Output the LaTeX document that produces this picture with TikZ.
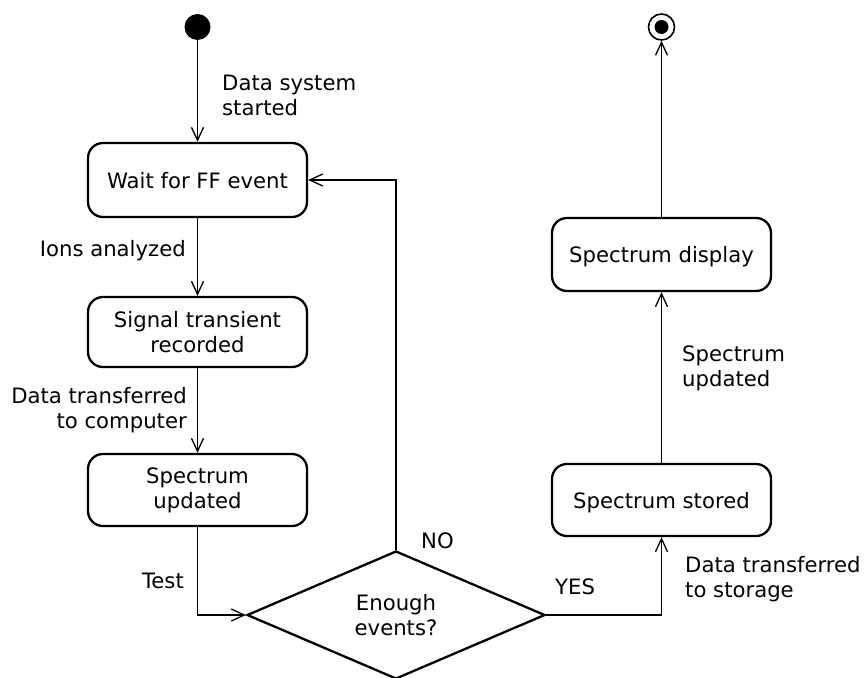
\documentclass[tikz,border=0pt]{standalone}
\usepackage{fontspec}
\setmainfont{DejaVu Sans}
\usetikzlibrary{shapes.geometric, arrows.meta}
\tikzset{
state/.style = {draw, line width=2.3pt, rounded corners=15pt,
                 minimum width=219pt, inner sep=0pt, align=center},
oneline/.style = {text depth=0pt},
decision/.style = {diamond, draw, line width=2.3pt, inner sep=0pt,
                   minimum width=298pt, minimum height=128pt, align=center},
start/.style = {circle, fill, minimum size=26pt, inner sep=0pt},
finish/.style = {circle, draw, line width=1.6pt, minimum size=26pt, inner sep=0pt,
                 path picture={\fill (path picture bounding box.center) circle (7pt);}},
trans/.style = {line width=1.3pt, -{Straight Barb[length=13pt, width=12pt, line width=1.3pt]}},
lbl/.style = {inner sep=0pt}
}

\begin{document}
\begin{tikzpicture}[x=1pt, y=-1pt, font=\fontsize{21.2}{25}\selectfont]
	\def \colL{197.5} % left column
	\def \colR{661.5} % right column
	\useasboundingbox (0,0) rectangle (864,677);

	% States
	\node[start] (init) at (\colL,27) {};
	\node[state, oneline, minimum height=74pt] (wait) at (\colL,180) {Wait for FF event};
	\node[state, minimum height=70pt] (signal) at (\colL,332) {Signal transient\\recorded};
	\node[state, minimum height=72pt] (updated) at (\colL,490) {Spectrum\\updated};
	\node[decision] (test) at (396,615) {Enough\\events?};
	\node[state, oneline, minimum height=72pt] (stored) at (\colR,500) {Spectrum stored};
	\node[state, oneline, minimum height=73pt] (display) at (\colR,254.5) {Spectrum display};
	\node[finish] (final) at (\colR,27) {};

	% Transitions
	\draw[trans] (init) -- (wait.north);
	\draw[trans] (wait.south) -- (signal.north);
	\draw[trans] (signal.south) -- (updated.north);
	\draw[trans] (updated.south) |- (test.west);
	\draw[trans] (test.north) |- (wait.east);
	\draw[trans] (test.east) -| (stored.south);
	\draw[trans] (stored.north) -- (display.south);
	\draw[trans] (display.north) -- (final);

	% Labels
	\node[lbl, anchor=west, align=left] (lstart) at (222,95.5) {Data system\\started};
	\node[lbl, anchor=east] (lions) at (186,251) {Ions analyzed};
	\node[lbl, anchor=east, align=right] (lcomp) at (187,410.5) {Data transferred\\to computer};
	\node[lbl, anchor=east] (ltest) at (184,581) {Test};
	\node[lbl, anchor=west] (lno) at (421,541) {NO};
	\node[lbl, anchor=west] (lyes) at (555,587) {YES};
	\node[lbl, anchor=west, align=left] (lstore) at (685,579) {Data transferred\\to storage};
	\node[lbl, anchor=west, align=left] (lupd) at (682,368.5) {Spectrum\\updated};
\end{tikzpicture}
\end{document}
